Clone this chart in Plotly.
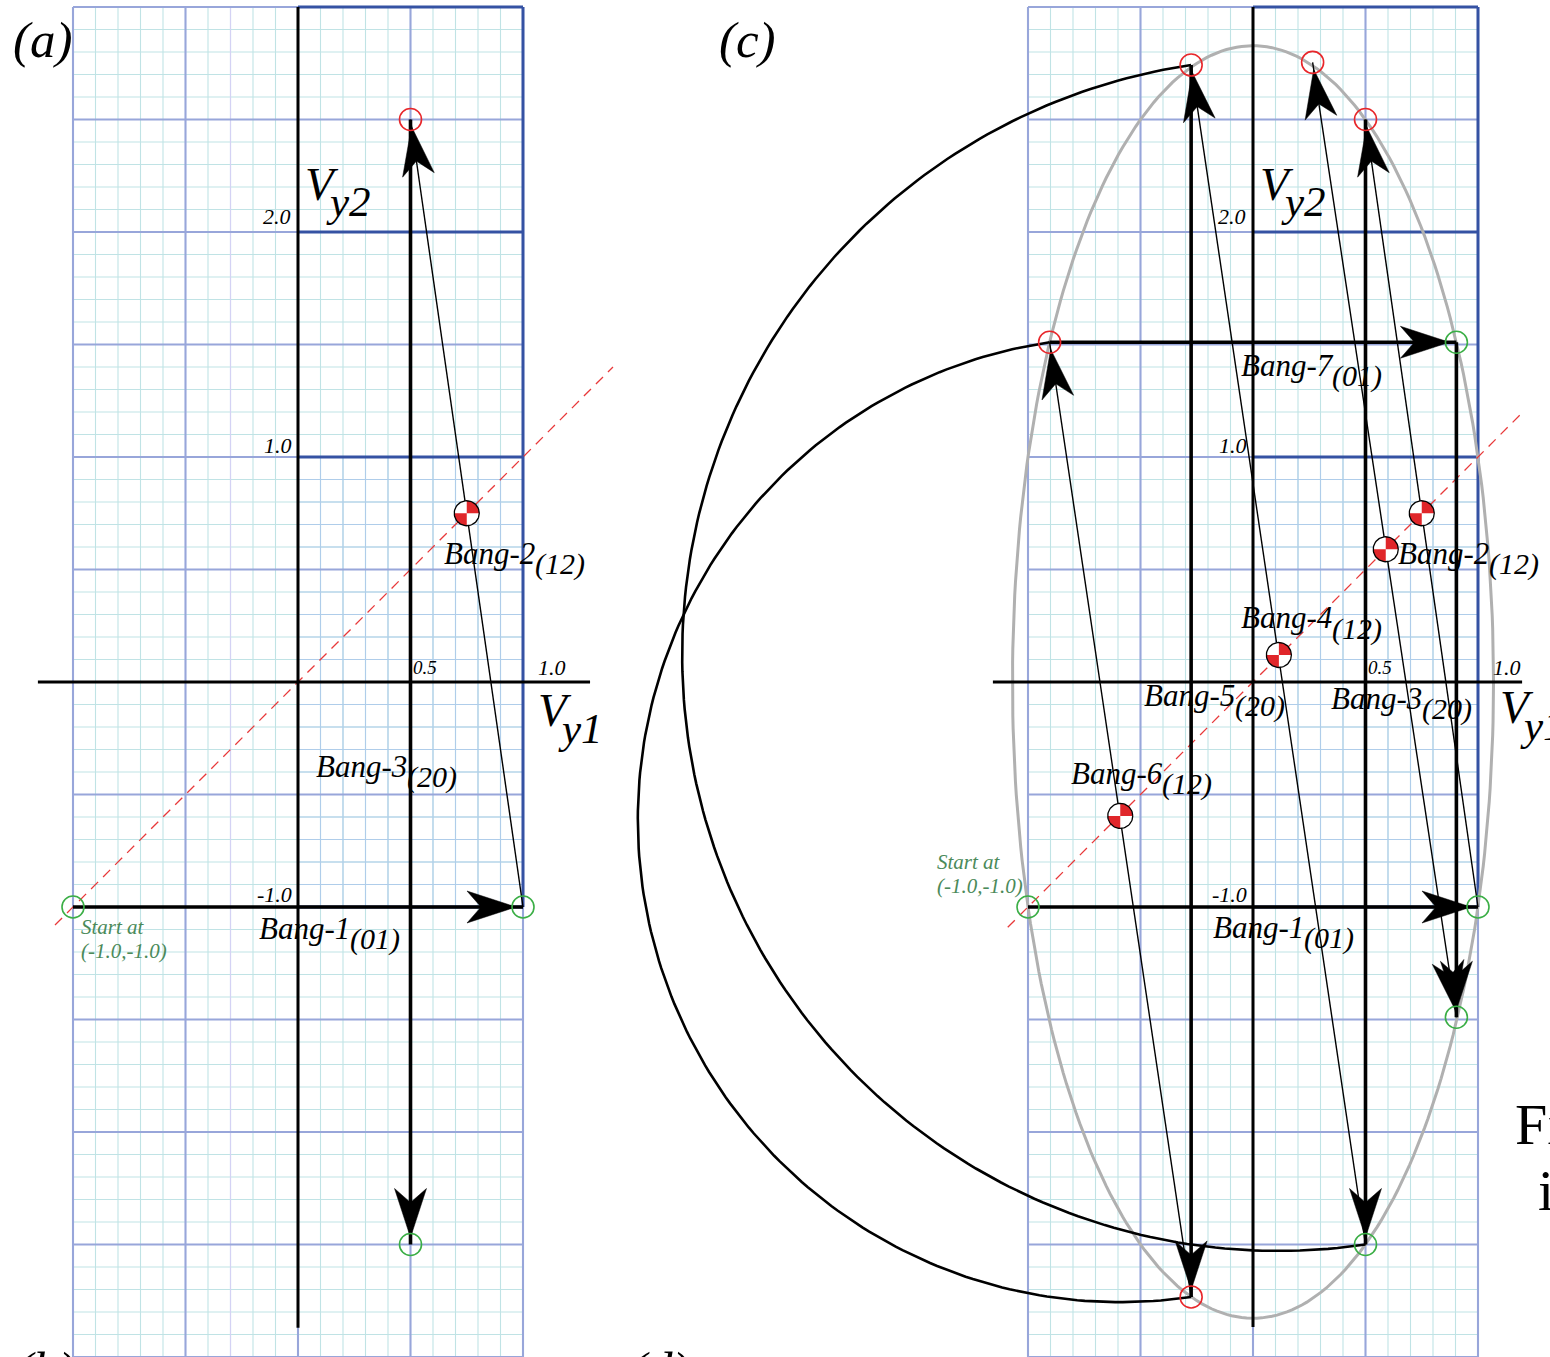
import numpy as np
import plotly.graph_objects as go

# ------------------------------------------------------------------ data
# phase-plane grid (graph paper) in data units
grid_x_range = [-1.0, 1.0]
grid_y_range = [-3.0, 3.0]
minor_step = 0.1
major_step = 0.5

# panel (a): switching path
a_pts_x = [-1.0, 1.0, 0.5, 0.5]
a_pts_y = [-1.0, -1.0, 2.5, -2.5]
a_pt_kind = ["g", "g", "r", "g"]
a_seg_mode = ["01", "12", "20"]
a_switch_x = [0.75]
a_switch_y = [0.75]
a_label_names = ["Bang-1", "Bang-2", "Bang-3"]
a_label_modes = ["(01)", "(12)", "(20)"]

# panel (c): switching path
c_pts_x = [-1.0, 1.0, 0.5, 0.5, -0.275, -0.275, -0.904, 0.904, 0.904, 0.265]
c_pts_y = [-1.0, -1.0, 2.5, -2.5, 2.742, -2.733, 1.51, 1.51, -1.49, 2.754]
c_pt_kind = ["g", "g", "r", "g", "r", "r", "r", "g", "g", "r"]
c_seg_mode = ["01", "12", "20", "12", "20", "12", "01", "20", "12"]
c_switch_x = [0.75, 0.59, 0.115, -0.59]
c_switch_y = [0.75, 0.59, 0.12, -0.595]
c_arc_pairs = [(4, 3), (6, 5)]
c_ellipse_a = 1.069
c_ellipse_b = 2.828
c_label_names = ["Bang-7", "Bang-2", "Bang-4", "Bang-5", "Bang-3", "Bang-6", "Bang-1"]
c_label_modes = ["(01)", "(12)", "(12)", "(20)", "(20)", "(12)", "(01)"]

a_diag = [-1.08, 1.40]
c_diag = [-1.09, 1.19]
tick_text_major = ["2.0", "1.0", "-1.0", "1.0"]

# ------------------------------------------------------------------ layout helpers
W, H = 1550, 1357
PX = 225.0
A_X0, C_X0, Y0 = 298.0, 1253.0, 682.0
SERIF = "Liberation Serif"
BLACK = "#000000"
GREEN = "#3aae45"
RED = "#e8262a"
TXT_GREEN = "#4b8a5a"

fig = go.Figure()


def add_line(xs, ys, xa, color, width, dash=None):
    fig.add_trace(go.Scatter(x=xs, y=ys, xaxis=xa, yaxis="y", mode="lines",
                             line=dict(color=color, width=width, dash=dash),
                             hoverinfo="skip", showlegend=False))


def add_poly(xs, ys, xa, fillcolor, linecolor=None, lw=0):
    fig.add_trace(go.Scatter(x=xs, y=ys, xaxis=xa, yaxis="y", mode="lines",
                             fill="toself", fillcolor=fillcolor,
                             line=dict(color=linecolor or fillcolor, width=lw),
                             hoverinfo="skip", showlegend=False))


def seg_list(segs):
    xs, ys = [], []
    for (x0, y0, x1, y1) in segs:
        xs += [x0, x1, None]
        ys += [y0, y1, None]
    return xs, ys


def draw_grid(xa, lavender=False):
    gx0, gx1 = grid_x_range
    gy0, gy1 = grid_y_range
    ybot = gy0 - 0.3
    xs_min = np.round(np.arange(gx0, gx1 + 1e-9, minor_step), 4)
    ys_min = np.round(np.arange(gy0 - 0.3, gy1 + 1e-9, minor_step), 4)
    segs = [(x, ybot, x, gy1) for x in xs_min] + [(gx0, y, gx1, y) for y in ys_min]
    add_line(*seg_list(segs), xa, "#c0e3e5", 1.1)
    # bluish minor grid in the inner square
    segs = [(x, -1, x, 1) for x in xs_min if 0 <= x <= 1] + \
           [(0, y, 1, y) for y in ys_min if -1 <= y <= 1]
    add_line(*seg_list(segs), xa, "#afcdea", 1.1)
    if lavender:
        add_line([-0.3, -0.3], [ybot, gy1], xa, "#d4d2f4", 1.2)
    xs_maj = np.round(np.arange(gx0, gx1 + 1e-9, major_step), 4)
    ys_maj = np.round(np.arange(gy0, gy1 + 1e-9, major_step), 4)
    segs = [(x, ybot, x, gy1) for x in xs_maj] + [(gx0, y, gx1, y) for y in ys_maj]
    add_line(*seg_list(segs), xa, "#98a6da", 2.1)
    dark = [(0, 3, 1, 3), (1, 3, 1, -1), (0, -1, 1, -1), (0, 1, 1, 1), (0, 2, 1, 2)]
    add_line(*seg_list(dark), xa, "#3552a3", 3)


def arrowhead(tip, d, L=49, Wd=16, notch=14):
    d = np.asarray(d, float)
    d = d / np.linalg.norm(d)
    n = np.array([-d[1], d[0]])
    tip = np.asarray(tip, float)
    L, Wd, notch = L / PX, Wd / PX, notch / PX
    b1 = tip - L * d + Wd * n
    b2 = tip - L * d - Wd * n
    nt = tip - (L - notch) * d
    curve = [b1 + (nt - b1) * t for t in np.linspace(0, 1, 6)] + \
            [nt + (b2 - nt) * t for t in np.linspace(0, 1, 6)]
    pts = [tip, b1] + curve + [b2, tip]
    return [p[0] for p in pts], [p[1] for p in pts]


def draw_path(xa, px_, py_, modes, extra_heads=()):
    for i, m in enumerate(modes):
        w = 1.4 if m == "12" else 3.6
        add_line([px_[i], px_[i + 1]], [py_[i], py_[i + 1]], xa, BLACK, w)
    hx, hy = [], []
    pairs = [(i, i + 1) for i in range(len(modes))] + list(extra_heads)
    for (i_from, i_to) in pairs:
        p0 = np.array([px_[i_from], py_[i_from]])
        p1 = np.array([px_[i_to], py_[i_to]])
        d = (p1 - p0) / np.linalg.norm(p1 - p0)
        tip = p1 - d * (7 / PX)
        x, y = arrowhead(tip, d)
        hx += x + [None]
        hy += y + [None]
    add_poly(hx, hy, xa, BLACK, BLACK, 0.5)


def draw_points(xa, px_, py_, kinds):
    for k, col in (("g", GREEN), ("r", RED)):
        xs = [x for x, kk in zip(px_, kinds) if kk == k]
        ys = [y for y, kk in zip(py_, kinds) if kk == k]
        fig.add_trace(go.Scatter(x=xs, y=ys, xaxis=xa, yaxis="y", mode="markers",
                                 marker=dict(symbol="circle-open", size=22, color=col,
                                             line=dict(width=1.6, color=col)),
                                 hoverinfo="skip", showlegend=False))


def draw_switches(xa, sx, sy):
    r = 12.5 / PX
    t = np.linspace(0, 2 * np.pi, 60)
    wx, wy, rx, ry = [], [], [], []
    for cx, cy in zip(sx, sy):
        wx += list(cx + r * np.cos(t)) + [None]
        wy += list(cy + r * np.sin(t)) + [None]
        for a0 in (0.0, np.pi):
            tt = np.linspace(a0, a0 + np.pi / 2, 15)
            rx += [cx] + list(cx + r * np.cos(tt)) + [cx, None]
            ry += [cy] + list(cy + r * np.sin(tt)) + [cy, None]
    add_poly(wx, wy, xa, "#ffffff", "#ffffff", 0)
    add_poly(rx, ry, xa, "#e0262a", "#e0262a", 0)
    add_line(wx, wy, xa, BLACK, 1.3)


def semicircle(p_top, p_bot):
    p_top = np.asarray(p_top)
    p_bot = np.asarray(p_bot)
    c = (p_top + p_bot) / 2
    r = np.linalg.norm(p_top - p_bot) / 2
    a0 = np.arctan2(*(p_top - c)[::-1])
    a1 = np.arctan2(*(p_bot - c)[::-1])
    if a1 < a0:
        a1 += 2 * np.pi
    t = np.linspace(a0, a1, 200)
    return list(c[0] + r * np.cos(t)), list(c[1] + r * np.sin(t))


# ------------------------------------------------------------------ panel (a)
draw_grid("x", lavender=True)
add_line(a_diag, a_diag, "x", "#e8393a", 1.3, dash="10px,7px")
add_line([0, 0], [3.0, -2.87], "x", BLACK, 3)
add_line([-1.156, 1.298], [0, 0], "x", BLACK, 3)
draw_path("x", a_pts_x, a_pts_y, a_seg_mode)
draw_points("x", a_pts_x, a_pts_y, a_pt_kind)
draw_switches("x", a_switch_x, a_switch_y)

# ------------------------------------------------------------------ panel (c)
draw_grid("x2")
te = np.linspace(0, 2 * np.pi, 300)
add_line(list(c_ellipse_a * np.cos(te)), list(c_ellipse_b * np.sin(te)), "x2", "#b0b0b0", 3)
add_line(c_diag, c_diag, "x2", "#e8393a", 1.3, dash="10px,7px")
add_line([0, 0], [3.0, -2.867], "x2", BLACK, 3)
add_line([-1.156, 1.196], [0, 0], "x2", BLACK, 3)
for (i_top, i_bot) in c_arc_pairs:
    ax_, ay_ = semicircle((c_pts_x[i_top], c_pts_y[i_top]), (c_pts_x[i_bot], c_pts_y[i_bot]))
    add_line(ax_, ay_, "x2", BLACK, 2.6)
draw_path("x2", c_pts_x, c_pts_y, c_seg_mode, extra_heads=[(9, 8)])
draw_points("x2", c_pts_x, c_pts_y, c_pt_kind)
draw_switches("x2", c_switch_x, c_switch_y)

# ------------------------------------------------------------------ text
annotations = []


def ann(text, xp, yp, size, color=BLACK, italic=True, xanchor="left"):
    annotations.append(dict(text=text, x=xp / W, y=1 - yp / H, xref="paper", yref="paper",
                            xanchor=xanchor, yanchor="middle", showarrow=False,
                            font=dict(family=SERIF, size=size, color=color,
                                      style="italic" if italic else "normal")))


# panel labels
ann("(a)", 11, 40, 51)
ann("(c)", 717, 40, 51)
ann("(b)", 14, 1370, 51)
ann("(d)", 628, 1370, 51)
ann("Fig.", 1513, 1124, 58, italic=False)
ann("in", 1536, 1190, 58, italic=False)

# tick labels
for xp0 in (A_X0, C_X0):
    ann(tick_text_major[0], xp0 - 5, 217, 22, xanchor="right")
    ann(tick_text_major[1], xp0 - 4, 445, 22, xanchor="right")
    ann(tick_text_major[2], xp0 - 4, 894, 22, xanchor="right")
    ann("0.5", xp0 + 113, 667, 19)
    ann(tick_text_major[3], xp0 + 238, 667, 22)
    # axis names
    ann("V", xp0 + 5, 184, 47)
    ann("y2", xp0 + 26, 202, 43)
ann("V", 536, 710, 47)
ann("y1", 556, 728, 43)
ann("V", 1498, 707, 47)
ann("y1", 1518, 725, 43)

# bang labels
a_label_pos = [(257, 928), (442, 553), (314, 766)]
for name, mode, (xp, yp) in zip(a_label_names, a_label_modes, a_label_pos):
    ann(name, xp, yp, 31)
    ann(mode, xp + 91, yp + 11, 30)
c_label_pos = [(1239, 365), (1396, 553), (1239, 618), (1142, 695), (1329, 698),
               (1069, 773), (1211, 927)]
for name, mode, (xp, yp) in zip(c_label_names, c_label_modes, c_label_pos):
    ann(name, xp, yp, 31)
    ann(mode, xp + 91, yp + 11, 30)

ann("Start at", 79, 927, 21, color=TXT_GREEN)
ann("(-1.0,-1.0)", 79, 951, 21, color=TXT_GREEN)
ann("Start at", 935, 862, 21, color=TXT_GREEN)
ann("(-1.0,-1.0)", 935, 886, 21, color=TXT_GREEN)

# ------------------------------------------------------------------ axes
ax_common = dict(visible=False, showgrid=False, zeroline=False, fixedrange=True)
fig.update_layout(
    width=W, height=H, margin=dict(l=0, r=0, t=0, b=0),
    paper_bgcolor="white", plot_bgcolor="white", showlegend=False,
    xaxis=dict(range=[(0 - A_X0) / PX, (W - A_X0) / PX], domain=[0, 1], **ax_common),
    xaxis2=dict(range=[(0 - C_X0) / PX, (W - C_X0) / PX], domain=[0, 1],
                overlaying="x", **ax_common),
    yaxis=dict(range=[(Y0 - H) / PX, Y0 / PX], domain=[0, 1], **ax_common),
    annotations=annotations,
)

fig.write_html("out.html", config={"displayModeBar": False},
               post_script="document.body.style.margin='0';document.body.style.overflow='hidden';")
